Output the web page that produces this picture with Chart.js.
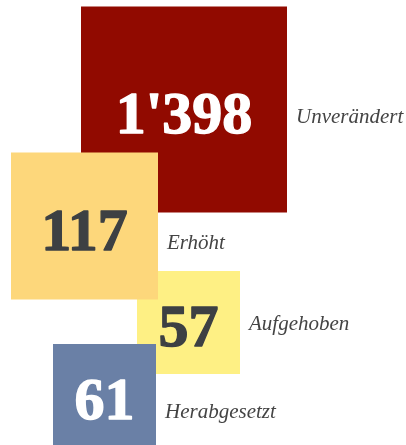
<!DOCTYPE html>
<html>
<head>
<meta charset="utf-8">
<script src="https://cdn.jsdelivr.net/npm/chart.js@4"></script>
<style>
  html, body { margin: 0; padding: 0; background: #fff; }
  canvas { display: block; }
</style>
</head>
<body>
<canvas id="chart" width="406" height="445"></canvas>
<script>
// data
const categories = ["Unverändert", "Erhöht", "Aufgehoben", "Herabgesetzt"];
const counts = [1398, 117, 57, 61];

// layout (scale units = pixels of the 406x445 page)
const boxSide = [206, 147, 103, 103];
const boxX = [184, 84.5, 188.5, 104.5];
const boxY = [109.5, 226, 322.5, 395.5];
const labelDy = [13.5, 23, 7.5, 22.5];
const stackOrder = [3, 1, 2, 0];

// styles
const boxColors = ["#910a00", "#fdd77b", "#fef084", "#6a80a6"];
const numColors = ["#ffffff", "#3d4043", "#3d4043", "#ffffff"];

function fmt(n) {
  return n.toString().replace(/\B(?=(\d{3})+(?!\d))/g, "'");
}

const textPlugin = {
  id: "boxText",
  afterDatasetDraw(chart, args) {
    const i = args.index;
    const pt = args.meta.data[0];
    const ctx = chart.ctx;
    ctx.save();
    ctx.textBaseline = "alphabetic";
    ctx.textAlign = "center";
    ctx.font = "bold 60px 'Liberation Serif'";
    ctx.fillStyle = numColors[i];
    ctx.strokeStyle = numColors[i];
    ctx.lineWidth = 1.4;
    ctx.lineJoin = "round";
    ctx.fillText(fmt(counts[i]), pt.x, pt.y + 23.5);
    ctx.strokeText(fmt(counts[i]), pt.x, pt.y + 23.5);
    ctx.textAlign = "left";
    ctx.font = "italic 21px 'Liberation Serif'";
    ctx.fillStyle = "#444444";
    ctx.fillText(categories[i], pt.x + boxSide[i] / 2 + 9, pt.y + labelDy[i]);
    ctx.restore();
  }
};

const datasets = categories.map((c, i) => ({
  label: c,
  order: stackOrder[i],
  clip: false,
  data: [{ x: boxX[i], y: boxY[i], r: boxSide[i] / Math.SQRT2 }],
  backgroundColor: boxColors[i],
  borderWidth: 0,
  pointStyle: "rect"
}));

new Chart(document.getElementById("chart"), {
  type: "bubble",
  data: { datasets },
  options: {
    responsive: false,
    animation: false,
    events: [],
    layout: { padding: 0, autoPadding: false },
    plugins: { legend: { display: false }, tooltip: { enabled: false } },
    scales: {
      x: { type: "linear", min: 0, max: 406, display: false },
      y: { type: "linear", min: 0, max: 445, reverse: true, display: false }
    }
  },
  plugins: [textPlugin]
});
</script>
</body>
</html>
